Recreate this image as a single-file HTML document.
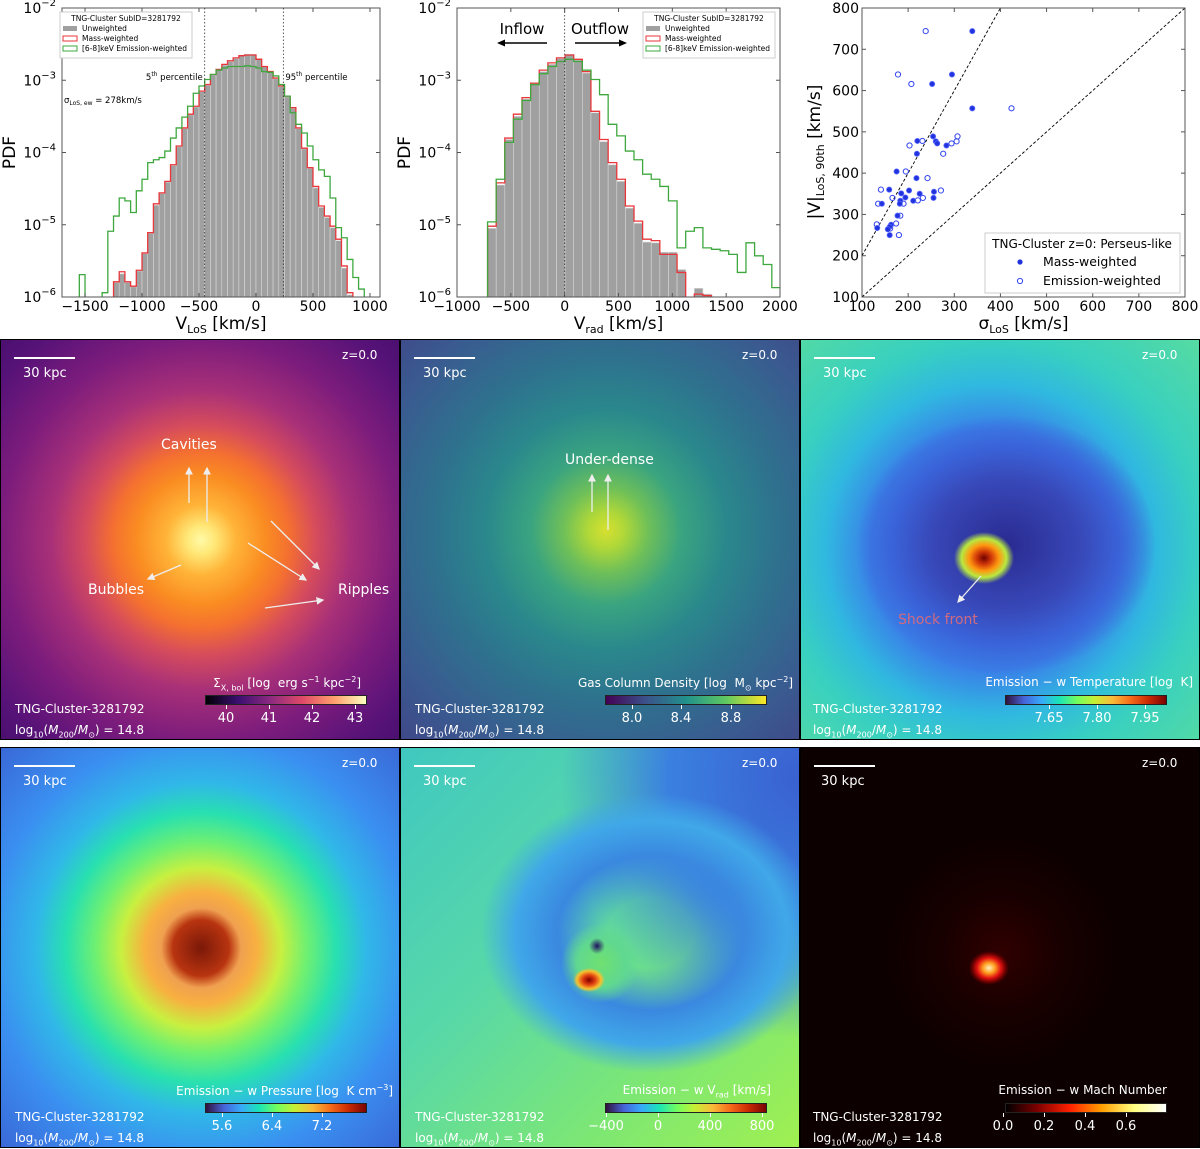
<!DOCTYPE html>
<html><head><meta charset="utf-8">
<style>
body{margin:0;width:1200px;height:1149px;background:#fff;position:relative;overflow:hidden;font-family:"DejaVu Sans","Liberation Sans",sans-serif}
.panel{position:absolute;width:398px;height:399px;border:1px solid #000;overflow:hidden}
.t{position:absolute;color:#fff;font-size:12px;white-space:nowrap}
.ct{position:absolute;right:6px;top:335px;color:#fff;font-size:12px;white-space:nowrap}
.cb{position:absolute;left:204px;top:355px;width:160px;height:8px;border:1px solid #222}
.tick{position:absolute;top:365px;width:1px;height:4px;background:#fff}
.tl{position:absolute;top:371px;color:#fff;font-size:13px;transform:translateX(-50%)}
.bar{position:absolute;left:13px;top:17px;width:61px;height:2px;background:#fff}
sub,sup{font-size:8px}
</style></head><body>
<svg id="top" width="1200" height="335" style="position:absolute;left:0;top:0" font-family="DejaVu Sans, Liberation Sans, sans-serif"></svg>

<!-- Row 2 -->
<div class="panel" style="left:0;top:339px;background:radial-gradient(circle at 200px 200px,#fffaa8 0,#ffe878 14px,#ffb438 35px,#fa8c22 65px,#f47030 88px,#d64c5c 115px,#a83078 150px,#7c1c7c 200px,#561278 255px,#360c60 330px)">
<div class="bar"></div>
<div class="t" style="left:22px;top:26px;font-size:13px">30 kpc</div>
<div class="t" style="left:341px;top:8px">z=0.0</div>
<div class="t" style="left:160px;top:97px;font-size:14px">Cavities</div>
<div class="t" style="left:87px;top:242px;font-size:14px">Bubbles</div>
<div class="t" style="left:337px;top:242px;font-size:14px">Ripples</div>
<svg width="398" height="399" style="position:absolute;left:0;top:0"><defs><marker id="ah" markerWidth="6" markerHeight="6" refX="5" refY="3" orient="auto"><path d="M0,0L6,3L0,6z" fill="#eee"/></marker></defs>
<g stroke="#eee" stroke-width="1.3" marker-end="url(#ah)"><line x1="188" y1="163" x2="188" y2="128"/><line x1="206" y1="182" x2="206" y2="128"/><line x1="180" y1="225" x2="147" y2="239"/><line x1="247" y1="203" x2="305" y2="240"/><line x1="270" y1="181" x2="318" y2="229"/><line x1="264" y1="268" x2="322" y2="260"/></g></svg>
<div class="ct" style="right:38px">Σ<sub>X, bol</sub> [log&nbsp; erg s<sup>−1</sup> kpc<sup>−2</sup>]</div>
<div class="cb" style="background:linear-gradient(90deg,#000004,#3b0f70,#8c2981,#de4968,#fe9f6d,#fcfdbf)"></div>
<div class="tick" style="left:225px"></div><div class="tick" style="left:268px"></div><div class="tick" style="left:311px"></div><div class="tick" style="left:354px"></div>
<div class="tl" style="left:225px">40</div><div class="tl" style="left:268px">41</div><div class="tl" style="left:311px">42</div><div class="tl" style="left:354px">43</div>
<div class="t" style="left:14px;top:362px">TNG-Cluster-3281792</div>
<div class="t" style="left:14px;top:383px">log<sub>10</sub>(<i>M</i><sub>200</sub>/<i>M</i><sub>⊙</sub>) = 14.8</div>
</div>

<div class="panel" style="left:400px;top:339px;background:radial-gradient(circle at 205px 190px,#d8e030 0,#b0d838 18px,#70c058 42px,#3aa480 75px,#2a888c 120px,#2e728e 170px,#3a5a90 240px,#433c84 330px)">
<div class="bar"></div>
<div class="t" style="left:22px;top:26px;font-size:13px">30 kpc</div>
<div class="t" style="left:341px;top:8px">z=0.0</div>
<div class="t" style="left:164px;top:112px;font-size:14px">Under-dense</div>
<svg width="398" height="399" style="position:absolute;left:0;top:0"><g stroke="#eee" stroke-width="1.3" marker-end="url(#ah)"><line x1="191" y1="172" x2="191" y2="135"/><line x1="207" y1="190" x2="207" y2="135"/></g></svg>
<div class="ct">Gas Column Density [log&nbsp; M<sub>⊙</sub> kpc<sup>−2</sup>]</div>
<div class="cb" style="background:linear-gradient(90deg,#440154,#3b528b,#21918c,#5ec962,#fde725)"></div>
<div class="tick" style="left:231px"></div><div class="tick" style="left:280px"></div><div class="tick" style="left:330px"></div>
<div class="tl" style="left:231px">8.0</div><div class="tl" style="left:280px">8.4</div><div class="tl" style="left:330px">8.8</div>
<div class="t" style="left:14px;top:362px">TNG-Cluster-3281792</div>
<div class="t" style="left:14px;top:383px">log<sub>10</sub>(<i>M</i><sub>200</sub>/<i>M</i><sub>⊙</sub>) = 14.8</div>
</div>

<div class="panel" style="left:800px;top:339px;background:radial-gradient(ellipse 30px 26px at 183px 218px,#700000 0,#d03808 25%,#ff9810 50%,#b8e840 75%,transparent 100%),radial-gradient(ellipse 150px 130px at 205px 205px,#2a2a90 0,#3848b8 50%,#3a62d8 75%,transparent 100%),radial-gradient(circle at 190px 210px,#3a80e8 0,#3a80e8 120px,#30b8e0 165px,#38d0c0 210px,#58dca0 300px)">
<div class="bar"></div>
<div class="t" style="left:22px;top:26px;font-size:13px">30 kpc</div>
<div class="t" style="left:341px;top:8px">z=0.0</div>
<div class="t" style="left:97px;top:272px;font-size:14px;color:#d06a80">Shock front</div>
<svg width="398" height="399" style="position:absolute;left:0;top:0"><g stroke="#eee" stroke-width="1.3" marker-end="url(#ah)"><line x1="180" y1="236" x2="157" y2="262"/></g></svg>
<div class="ct">Emission − w Temperature [log&nbsp; K]</div>
<div class="cb" style="background:linear-gradient(90deg,#30123b,#4662d7,#36aaf9,#1ae4b6,#72fe5e,#c7ef34,#faba39,#f66b19,#ca2a04,#7a0403)"></div>
<div class="tick" style="left:248px"></div><div class="tick" style="left:296px"></div><div class="tick" style="left:344px"></div>
<div class="tl" style="left:248px">7.65</div><div class="tl" style="left:296px">7.80</div><div class="tl" style="left:344px">7.95</div>
<div class="t" style="left:12px;top:362px">TNG-Cluster-3281792</div>
<div class="t" style="left:12px;top:383px">log<sub>10</sub>(<i>M</i><sub>200</sub>/<i>M</i><sub>⊙</sub>) = 14.8</div>
</div>

<!-- Row 3 -->
<div class="panel" style="left:0;top:747px;background:radial-gradient(circle at 200px 200px,#7a1808 0,#b83410 28px,#f0a050 40px,#f8b040 56px,#c8f040 80px,#70f070 105px,#28e0b0 135px,#30b8e8 165px,#3a90f0 210px,#3a6ad8 280px,#403a9a 360px)">
<div class="bar"></div>
<div class="t" style="left:22px;top:26px;font-size:13px">30 kpc</div>
<div class="t" style="left:341px;top:8px">z=0.0</div>
<div class="ct">Emission − w Pressure [log&nbsp; K cm<sup>−3</sup>]</div>
<div class="cb" style="background:linear-gradient(90deg,#30123b,#4662d7,#36aaf9,#1ae4b6,#72fe5e,#c7ef34,#faba39,#f66b19,#ca2a04,#7a0403)"></div>
<div class="tick" style="left:221px"></div><div class="tick" style="left:271px"></div><div class="tick" style="left:321px"></div>
<div class="tl" style="left:221px">5.6</div><div class="tl" style="left:271px">6.4</div><div class="tl" style="left:321px">7.2</div>
<div class="t" style="left:14px;top:362px">TNG-Cluster-3281792</div>
<div class="t" style="left:14px;top:383px">log<sub>10</sub>(<i>M</i><sub>200</sub>/<i>M</i><sub>⊙</sub>) = 14.8</div>
</div>

<div class="panel" style="left:400px;top:747px;background:radial-gradient(ellipse 16px 12px at 188px 232px,#800000 0,#e04010 40%,#f8c030 75%,transparent 100%),radial-gradient(circle 8px at 196px 198px,#201060 0,transparent 100%),radial-gradient(ellipse 40px 40px at 200px 215px,#70e070 0,#60d890 60%,transparent 100%),radial-gradient(ellipse 170px 140px at 250px 185px,transparent 0,transparent 25%,#3a88e0 55%,#40a8e8 80%,transparent 100%),radial-gradient(ellipse 240px 260px at 400px 30px,#3a60d0 0,#3a80e0 55%,transparent 100%),linear-gradient(135deg,#40c8c0,#58d8a8 40%,#80e870 75%,#a0f050)">
<div class="bar"></div>
<div class="t" style="left:22px;top:26px;font-size:13px">30 kpc</div>
<div class="t" style="left:341px;top:8px">z=0.0</div>
<div class="ct" style="right:28px">Emission − w V<sub>rad</sub> [km/s]</div>
<div class="cb" style="background:linear-gradient(90deg,#30123b,#4662d7,#36aaf9,#1ae4b6,#72fe5e,#c7ef34,#faba39,#f66b19,#ca2a04,#7a0403)"></div>
<div class="tick" style="left:205px"></div><div class="tick" style="left:257px"></div><div class="tick" style="left:309px"></div><div class="tick" style="left:361px"></div>
<div class="tl" style="left:205px">−400</div><div class="tl" style="left:257px">0</div><div class="tl" style="left:309px">400</div><div class="tl" style="left:361px">800</div>
<div class="t" style="left:14px;top:362px">TNG-Cluster-3281792</div>
<div class="t" style="left:14px;top:383px">log<sub>10</sub>(<i>M</i><sub>200</sub>/<i>M</i><sub>⊙</sub>) = 14.8</div>
</div>

<div class="panel" style="left:800px;top:747px;background:radial-gradient(ellipse 20px 17px at 188px 220px,#fff0c0 0,#ffa020 30%,#e01010 60%,#600000 85%,transparent 100%),radial-gradient(circle at 200px 205px,#300000 0,#180000 60px,#0c0000 120px)">
<div class="bar"></div>
<div class="t" style="left:20px;top:26px;font-size:13px">30 kpc</div>
<div class="t" style="left:341px;top:8px">z=0.0</div>
<div class="ct" style="right:32px">Emission − w Mach Number</div>
<div class="cb" style="background:linear-gradient(90deg,#000,#800000,#ff2000,#ffa000,#ffff80,#fff)"></div>
<div class="tick" style="left:202px"></div><div class="tick" style="left:243px"></div><div class="tick" style="left:284px"></div><div class="tick" style="left:325px"></div>
<div class="tl" style="left:202px">0.0</div><div class="tl" style="left:243px">0.2</div><div class="tl" style="left:284px">0.4</div><div class="tl" style="left:325px">0.6</div>
<div class="t" style="left:12px;top:362px">TNG-Cluster-3281792</div>
<div class="t" style="left:12px;top:383px">log<sub>10</sub>(<i>M</i><sub>200</sub>/<i>M</i><sub>⊙</sub>) = 14.8</div>
</div>

<script>
// ---------- data ----------
const losBinStart = -1250, losBinStartEw = -1550, losBinWidth = 50;
const losMassLog = [-5.79,-5.65,-5.79,-5.85,-5.63,-5.39,-5.11,-4.71,-4.56,-4.40,-4.17,-3.91,-3.66,-3.47,-3.36,-3.15,-3.06,-2.92,-2.85,-2.78,-2.73,-2.69,-2.66,-2.65,-2.65,-2.71,-2.81,-2.88,-2.97,-3.08,-3.22,-3.38,-3.66,-3.94,-4.21,-4.47,-4.74,-4.88,-5.02,-5.20,-5.57,-5.94];
const losUnwLog = [-5.80,-5.68,-5.80,-5.86,-5.64,-5.40,-5.12,-4.73,-4.57,-4.41,-4.18,-3.92,-3.67,-3.48,-3.37,-3.16,-3.07,-2.93,-2.86,-2.79,-2.74,-2.70,-2.66,-2.64,-2.64,-2.70,-2.81,-2.89,-2.98,-3.09,-3.23,-3.39,-3.67,-3.95,-4.22,-4.49,-4.76,-4.90,-5.04,-5.22,-5.60,-5.97];
const losEwLog = [-5.69,-6.05,-6.05,-6.05,-5.94,-5.09,-4.88,-4.63,-4.67,-4.83,-4.53,-4.37,-4.14,-4.10,-4.07,-3.98,-3.80,-3.66,-3.51,-3.36,-3.18,-3.08,-2.99,-2.92,-2.86,-2.83,-2.81,-2.81,-2.81,-2.80,-2.81,-2.83,-2.88,-2.89,-2.94,-3.06,-3.22,-3.45,-3.61,-3.73,-3.91,-4.10,-4.24,-4.33,-4.63,-5.04,-5.18,-5.48,-5.73,-5.89,-6.1];
const radBinStart = -716, radBinWidth = 80;
const radMassLog = [-5.02,-4.42,-3.80,-3.47,-3.24,-3.04,-2.86,-2.76,-2.69,-2.65,-2.71,-2.88,-3.43,-3.82,-4.14,-4.37,-4.74,-4.95,-5.20,-5.22,-5.41,-5.41,-5.66,-7,-5.96,-5.98];
const radUnwLog = [-5.05,-4.45,-3.82,-3.50,-3.26,-3.05,-2.88,-2.78,-2.70,-2.64,-2.72,-2.90,-3.45,-3.85,-4.17,-4.40,-4.77,-4.98,-5.24,-5.25,-5.38,-5.38,-5.62,-7,-5.88,-5.96];
const radEwLog = [-4.96,-4.37,-3.86,-3.54,-3.28,-3.06,-2.91,-2.81,-2.74,-2.71,-2.74,-2.86,-2.99,-3.20,-3.61,-3.77,-3.98,-4.10,-4.30,-4.37,-4.47,-4.67,-5.32,-5.09,-5.04,-5.32,-5.34,-5.36,-5.41,-5.66,-5.25,-5.43,-5.55,-5.87];
const massSigma = [339,295,252,339,254,260,263,283,220,219,175,218,159,202,185,225,256,255,194,211,183,182,143,177,163,160,156,133,160];
const massV90   = [744,639,616,557,489,477,472,467,478,447,404,388,360,358,351,350,355,340,341,333,333,326,326,297,275,270,264,267,250];
const emisSigma = [238,178,207,424,307,305,294,276,203,231,195,242,141,271,166,232,221,190,135,183,174,161,132,180];
const emisV90   = [744,639,616,557,489,477,472,447,467,478,404,388,360,358,340,340,334,326,326,297,278,266,276,250];
const ticksLogY = [-2,-3,-4,-5,-6];
const ticksLos = [-1500,-1000,-500,0,500,1000];
const ticksRad = [-1000,-500,0,500,1000,1500,2000];
const ticksScatter = [100,200,300,400,500,600,700,800];

const svg = document.getElementById('top');
const NS = 'http://www.w3.org/2000/svg';
function mk(tag, attrs, parent){const e=document.createElementNS(NS,tag);for(const k in attrs)e.setAttribute(k,attrs[k]);(parent||svg).appendChild(e);return e;}
function txt(x,y,s,size,anchor,parent){const e=mk('text',{x:x,y:y,'font-size':size,'text-anchor':anchor||'middle',fill:'#000'},parent);e.innerHTML=s;return e;}

const T=8,B=297;
const yLog = v => T + (-2 - v) * (B - T) / 4;

function histPanel(name, L, R, x0, x1, xticks, xlabel, bins){
  const g = mk('g',{});
  
  
  const xs = v => L + (v - x0) * (R - L) / (x1 - x0);
  const cp = mk('clipPath',{id:'c'+name},g); mk('rect',{x:L,y:T,width:R-L,height:B-T},cp);
  const inner = mk('g',{'clip-path':'url(#c'+name+')'},g);
  const u = bins.unw;
  u.vals.forEach((v,i)=>{
    const xa = xs(u.start + i*u.w), xb = xs(u.start + (i+1)*u.w);
    const r = mk('rect',{x:xa,y:yLog(v),width:xb-xa,height:Math.max(0,B-yLog(v)),fill:'#a0a0a0',stroke:'#d8d8d8','stroke-width':0.6},inner);
    
    
  });
  function step(s, color){
    let d = 'M'+xs(s.start)+','+(B+5);
    s.vals.forEach((v,i)=>{const xa=xs(s.start+i*s.w), xb=xs(s.start+(i+1)*s.w); const y=yLog(v); d+=' L'+xa+','+y+' L'+xb+','+y;});
    d+=' L'+xs(s.start+s.vals.length*s.w)+','+(B+5);
    const p = mk('path',{d:d,fill:'none',stroke:color,'stroke-width':1.3},inner);
    
    
  }
  step(bins.mass,'#e8363a');
  step(bins.ew,'#3ea83e');
  mk('rect',{x:L,y:T,width:R-L,height:B-T,fill:'none',stroke:'#555','stroke-width':1},g);
  ticksLogY.forEach(t=>{
    const y=yLog(t);
    mk('line',{x1:L,x2:L+4,y1:y,y2:y,stroke:'#555'},g);
    mk('line',{x1:R,x2:R-4,y1:y,y2:y,stroke:'#555'},g);
    txt(L-6,y+5,'10<tspan dy="-7" font-size="10">'+(t<0?'−'+(-t):t)+'</tspan>',14,'end',g);
  });
  xticks.forEach(t=>{
    const x=xs(t);
    mk('line',{x1:x,x2:x,y1:B,y2:B-4,stroke:'#555'},g);
    mk('line',{x1:x,x2:x,y1:T,y2:T+4,stroke:'#555'},g);
    txt(x,B+14,(t<0?'−'+(-t):t),14,'middle',g);
  });
  txt((L+R)/2,B+32,xlabel,17,'middle',g);
  const yl = txt(0,0,'PDF',17,'middle',g); yl.setAttribute('transform','translate('+(L-47)+','+((T+B)/2)+') rotate(-90)');
  return xs;
}
function legend(x,y,g){
  const lg = mk('g',{},g);
  
  
  mk('rect',{x:x,y:y,width:132,height:46,fill:'#fff',stroke:'#ccc'},lg);
  txt(x+66,y+9,'TNG-Cluster SubID=3281792',7.5,'middle',lg);
  mk('rect',{x:x+3,y:y+14,width:14,height:5,fill:'#a0a0a0'},lg); txt(x+22,y+19,'Unweighted',7.5,'start',lg);
  mk('rect',{x:x+3,y:y+24,width:14,height:5,fill:'none',stroke:'#e8363a'},lg); txt(x+22,y+29,'Mass-weighted',7.5,'start',lg);
  mk('rect',{x:x+3,y:y+34,width:14,height:5,fill:'none',stroke:'#3ea83e'},lg); txt(x+22,y+39,'[6-8]keV Emission-weighted',7.5,'start',lg);
}

const xs1 = histPanel('vlos-histogram',62,380,-1702,1088,ticksLos,'V<tspan font-size="11" dy="4">LoS</tspan><tspan dy="-4"> [km/s]</tspan>',
  {unw:{start:losBinStart,w:losBinWidth,vals:losUnwLog},mass:{start:losBinStart,w:losBinWidth,vals:losMassLog},ew:{start:losBinStartEw,w:losBinWidth,vals:losEwLog}});
[-450,240].forEach(v=>mk('line',{x1:xs1(v),x2:xs1(v),y1:T,y2:B,stroke:'#333','stroke-dasharray':'1.5,2','stroke-width':0.8}));
txt(xs1(-450)-2,80,'5<tspan dy="-4" font-size="6">th</tspan><tspan dy="4"> percentile</tspan>',8.5,'end');
txt(xs1(240)+2,80,'95<tspan dy="-4" font-size="6">th</tspan><tspan dy="4"> percentile</tspan>',8.5,'start');
txt(64,103,'σ<tspan font-size="6" dy="2">LoS, ew</tspan><tspan dy="-2"> = 278km/s</tspan>',8.5,'start');
legend(60,12);

const xs2 = histPanel('vrad-histogram',457,780,-1000,2000,ticksRad,'V<tspan font-size="11" dy="4">rad</tspan><tspan dy="-4"> [km/s]</tspan>',
  {unw:{start:radBinStart,w:radBinWidth,vals:radUnwLog},mass:{start:radBinStart,w:radBinWidth,vals:radMassLog},ew:{start:radBinStart,w:radBinWidth,vals:radEwLog}});
mk('line',{x1:xs2(0),x2:xs2(0),y1:T,y2:B,stroke:'#333','stroke-dasharray':'1.5,2','stroke-width':0.8});
txt(522,34,'Inflow',15,'middle'); txt(600,34,'Outflow',15,'middle');
mk('line',{x1:547,x2:501,y1:43,y2:43,stroke:'#000','stroke-width':1.5}); mk('path',{d:'M497,43 L505,39.5 L505,46.5z'});
mk('line',{x1:575,x2:622,y1:43,y2:43,stroke:'#000','stroke-width':1.5}); mk('path',{d:'M627,43 L619,39.5 L619,46.5z'});
legend(643,12);

(function(){
  const L=862,R=1185,g=mk('g',{});
  
  
  const xs = v => L + (v-100)*(R-L)/700, ys = v => B - (v-100)*(B-T)/700;
  mk('rect',{x:L,y:T,width:R-L,height:B-T,fill:'#fff',stroke:'#555'},g);
  mk('line',{x1:xs(100),y1:ys(100),x2:xs(800),y2:ys(800),stroke:'#000','stroke-dasharray':'3,2','stroke-width':0.9},g);
  mk('line',{x1:xs(100),y1:ys(200),x2:xs(400),y2:ys(800),stroke:'#000','stroke-dasharray':'3,2','stroke-width':0.9},g);
  ticksScatter.forEach(t=>{
    mk('line',{x1:xs(t),x2:xs(t),y1:B,y2:B-4,stroke:'#555'},g);
    mk('line',{x1:xs(t),x2:xs(t),y1:T,y2:T+4,stroke:'#555'},g);
    mk('line',{x1:L,x2:L+4,y1:ys(t),y2:ys(t),stroke:'#555'},g);
    mk('line',{x1:R,x2:R-4,y1:ys(t),y2:ys(t),stroke:'#555'},g);
    txt(xs(t),B+14,t,14,'middle',g);
    txt(L-3,ys(t)+5,t,14,'end',g);
  });
  emisSigma.forEach((s,i)=>{const c=mk('circle',{cx:xs(s),cy:ys(emisV90[i]),r:2.6,fill:'none',stroke:'#3344ee','stroke-width':1},g);
     });
  massSigma.forEach((s,i)=>{const c=mk('circle',{cx:xs(s),cy:ys(massV90[i]),r:2.6,fill:'#2233dd',stroke:'#5566ff','stroke-width':0.8},g);
     });
  const lg=mk('g',{},g);
  
  
  mk('rect',{x:985,y:233,width:195,height:60,fill:'#fff',stroke:'#ccc'},lg);
  txt(1082,248,'TNG-Cluster z=0: Perseus-like',12,'middle',lg);
  mk('circle',{cx:1020,cy:262,r:2.6,fill:'#2233dd'},lg); txt(1043,266,'Mass-weighted',12.5,'start',lg);
  mk('circle',{cx:1020,cy:281,r:2.6,fill:'none',stroke:'#3344ee'},lg); txt(1043,285,'Emission-weighted',12.5,'start',lg);
  txt((L+R)/2,B+32,'σ<tspan font-size="11" dy="4">LoS</tspan><tspan dy="-4"> [km/s]</tspan>',17,'middle',g);
  const yl=txt(0,0,'|V|<tspan font-size="11" dy="4">LoS, 90th</tspan><tspan dy="-4"> [km/s]</tspan>',17,'middle',g);
  yl.setAttribute('transform','translate(820,152) rotate(-90)');
})();
</script>
</body></html>
